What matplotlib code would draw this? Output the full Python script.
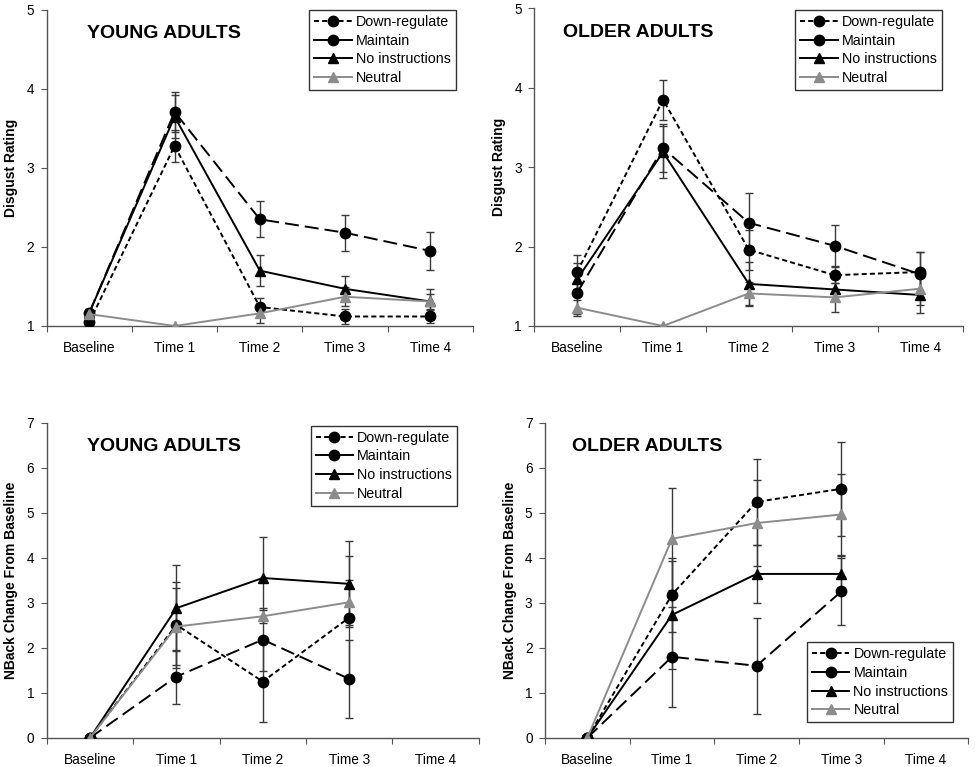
import numpy as np
import matplotlib
matplotlib.use('Agg')
import matplotlib.pyplot as plt
from matplotlib.lines import Line2D

plt.rcParams['font.family'] = ['Liberation Sans', 'DejaVu Sans']

times = ['Baseline', 'Time 1', 'Time 2', 'Time 3', 'Time 4']
series = ['Down-regulate', 'Maintain', 'No instructions', 'Neutral']

# disgust ratings, young adults
young_dis = {
    'Down-regulate':   [1.05, 3.28, 1.24, 1.12, 1.12],
    'Maintain':        [1.17, 3.71, 2.35, 2.18, 1.95],
    'No instructions': [1.17, 3.65, 1.70, 1.47, 1.31],
    'Neutral':         [1.15, 1.00, 1.16, 1.37, 1.31],
}
young_dis_err = {
    'Down-regulate':   [0.05, 0.20, 0.11, 0.10, 0.08],
    'Maintain':        [0.05, 0.25, 0.23, 0.23, 0.24],
    'No instructions': [0.05, 0.27, 0.20, 0.16, 0.16],
    'Neutral':         [0.05, 0.00, 0.12, 0.12, 0.10],
}
# disgust ratings, older adults
older_dis = {
    'Down-regulate':   [1.68, 3.85, 1.96, 1.64, 1.68],
    'Maintain':        [1.42, 3.24, 2.30, 2.01, 1.65],
    'No instructions': [1.59, 3.19, 1.53, 1.46, 1.39],
    'Neutral':         [1.23, 1.00, 1.41, 1.36, 1.47],
}
older_dis_err = {
    'Down-regulate':   [0.22, 0.25, 0.25, 0.10, 0.25],
    'Maintain':        [0.27, 0.30, 0.37, 0.26, 0.28],
    'No instructions': [0.20, 0.33, 0.28, 0.15, 0.23],
    'Neutral':         [0.10, 0.00, 0.15, 0.18, 0.20],
}
# nback change from baseline (no Time 4 data)
young_nb = {
    'Down-regulate':   [0, 2.51, 1.25, 2.67],
    'Maintain':        [0, 1.36, 2.18, 1.31],
    'No instructions': [0, 2.88, 3.55, 3.42],
    'Neutral':         [0, 2.47, 2.70, 3.01],
}
young_nb_err = {
    'Down-regulate':   [0, 0.96, 0.90, 1.36],
    'Maintain':        [0, 0.60, 0.70, 0.87],
    'No instructions': [0, 0.96, 0.90, 0.96],
    'Neutral':         [0, 0.85, 0.15, 0.50],
}
older_nb = {
    'Down-regulate':   [0, 3.18, 5.24, 5.53],
    'Maintain':        [0, 1.80, 1.60, 3.25],
    'No instructions': [0, 2.73, 3.64, 3.64],
    'Neutral':         [0, 4.42, 4.77, 4.96],
}
older_nb_err = {
    'Down-regulate':   [0, 0.82, 0.95, 1.04],
    'Maintain':        [0, 1.11, 1.06, 0.75],
    'No instructions': [0, 1.20, 0.64, 0.40],
    'Neutral':         [0, 1.13, 0.95, 0.90],
}

LW = 1.4
styles = {
    'Down-regulate':   dict(color='black', marker='o', ls=(0, (2.6, 1.6))),
    'Maintain':        dict(color='black', marker='o', ls=(0, (7.2, 3.1))),
    'No instructions': dict(color='black', marker='^', ls='-'),
    'Neutral':         dict(color='#8c8c8c', marker='^', ls='-'),
}
msize = {'o': 7.5, '^': 7}


def panel(ax, data, err, ylim, ylabel, title, tx, leg_anchor, leg_loc):
    for s in series:
        y = np.array(data[s])
        x = np.arange(len(y))
        st = styles[s]
        ax.errorbar(x, y, yerr=err[s], fmt='none', ecolor='#3a3a3a',
                    elinewidth=1, capsize=3, capthick=1, zorder=2)
        ax.plot(x, y, linestyle=st['ls'], color=st['color'], lw=LW,
                marker=st['marker'], ms=msize[st['marker']],
                mfc=st['color'], mec=st['color'], zorder=3)
    ax.set_xlim(-0.5, 4.5)
    ax.set_ylim(*ylim)
    ax.set_yticks(range(ylim[0], ylim[1] + 1))
    ax.set_xticks(np.arange(-0.5, 5, 1))
    ax.set_xticklabels([])
    ax.set_xticks(np.arange(5), minor=True)
    ax.set_xticklabels(times, minor=True)
    ax.tick_params(axis='x', which='minor', length=0, pad=11, labelsize=9.8)
    ax.tick_params(axis='x', which='major', length=4, direction='out',
                   color='#555555')
    ax.tick_params(axis='y', length=4, direction='out', color='#555555',
                   labelsize=9.8, pad=5)
    for sp in ['top', 'right']:
        ax.spines[sp].set_visible(False)
    for sp in ['left', 'bottom']:
        ax.spines[sp].set_color('#555555')
        ax.spines[sp].set_linewidth(1)
    ax.set_ylabel(ylabel, fontsize=10, fontweight='bold', labelpad=6)
    ax.text(tx, 0.925, title, transform=ax.transAxes, fontsize=14,
            fontweight='bold', va='center', ha='left')

    handles = [
        Line2D([], [], color='black', ls=(0, (2.6, 1.6)), lw=LW, marker='o', ms=7.5),
        Line2D([], [], color='black', ls='-', lw=LW, marker='o', ms=7.5),
        Line2D([], [], color='black', ls='-', lw=LW, marker='^', ms=7),
        Line2D([], [], color='#8c8c8c', ls='-', lw=LW, marker='^', ms=7),
    ]
    leg = ax.legend(handles, series, loc=leg_loc, bbox_to_anchor=leg_anchor,
                    fontsize=10.3, frameon=True, fancybox=False,
                    edgecolor='black', handlelength=2.6, handletextpad=0.3,
                    labelspacing=0.32, borderpad=0.35, borderaxespad=0)
    leg.get_frame().set_linewidth(1)


fig = plt.figure(figsize=(9.75, 7.67), dpi=100)
ax1 = fig.add_axes([0.048, 0.575, 0.437, 0.412])
ax2 = fig.add_axes([0.548, 0.575, 0.440, 0.414])
ax3 = fig.add_axes([0.048, 0.038, 0.443, 0.411])
ax4 = fig.add_axes([0.559, 0.038, 0.434, 0.411])

panel(ax1, young_dis, young_dis_err, (1, 5), 'Disgust Rating', 'YOUNG ADULTS',
      0.094, (0.96, 1.0), 'upper right')
panel(ax2, older_dis, older_dis_err, (1, 5), 'Disgust Rating', 'OLDER ADULTS',
      0.068, (0.95, 0.995), 'upper right')
panel(ax3, young_nb, young_nb_err, (0, 7), 'NBack Change From Baseline',
      'YOUNG ADULTS', 0.093, (0.95, 0.99), 'upper right')
panel(ax4, older_nb, older_nb_err, (0, 7), 'NBack Change From Baseline',
      'OLDER ADULTS', 0.063, (0.965, 0.05), 'lower right')

fig.savefig('out.png', dpi=100)
